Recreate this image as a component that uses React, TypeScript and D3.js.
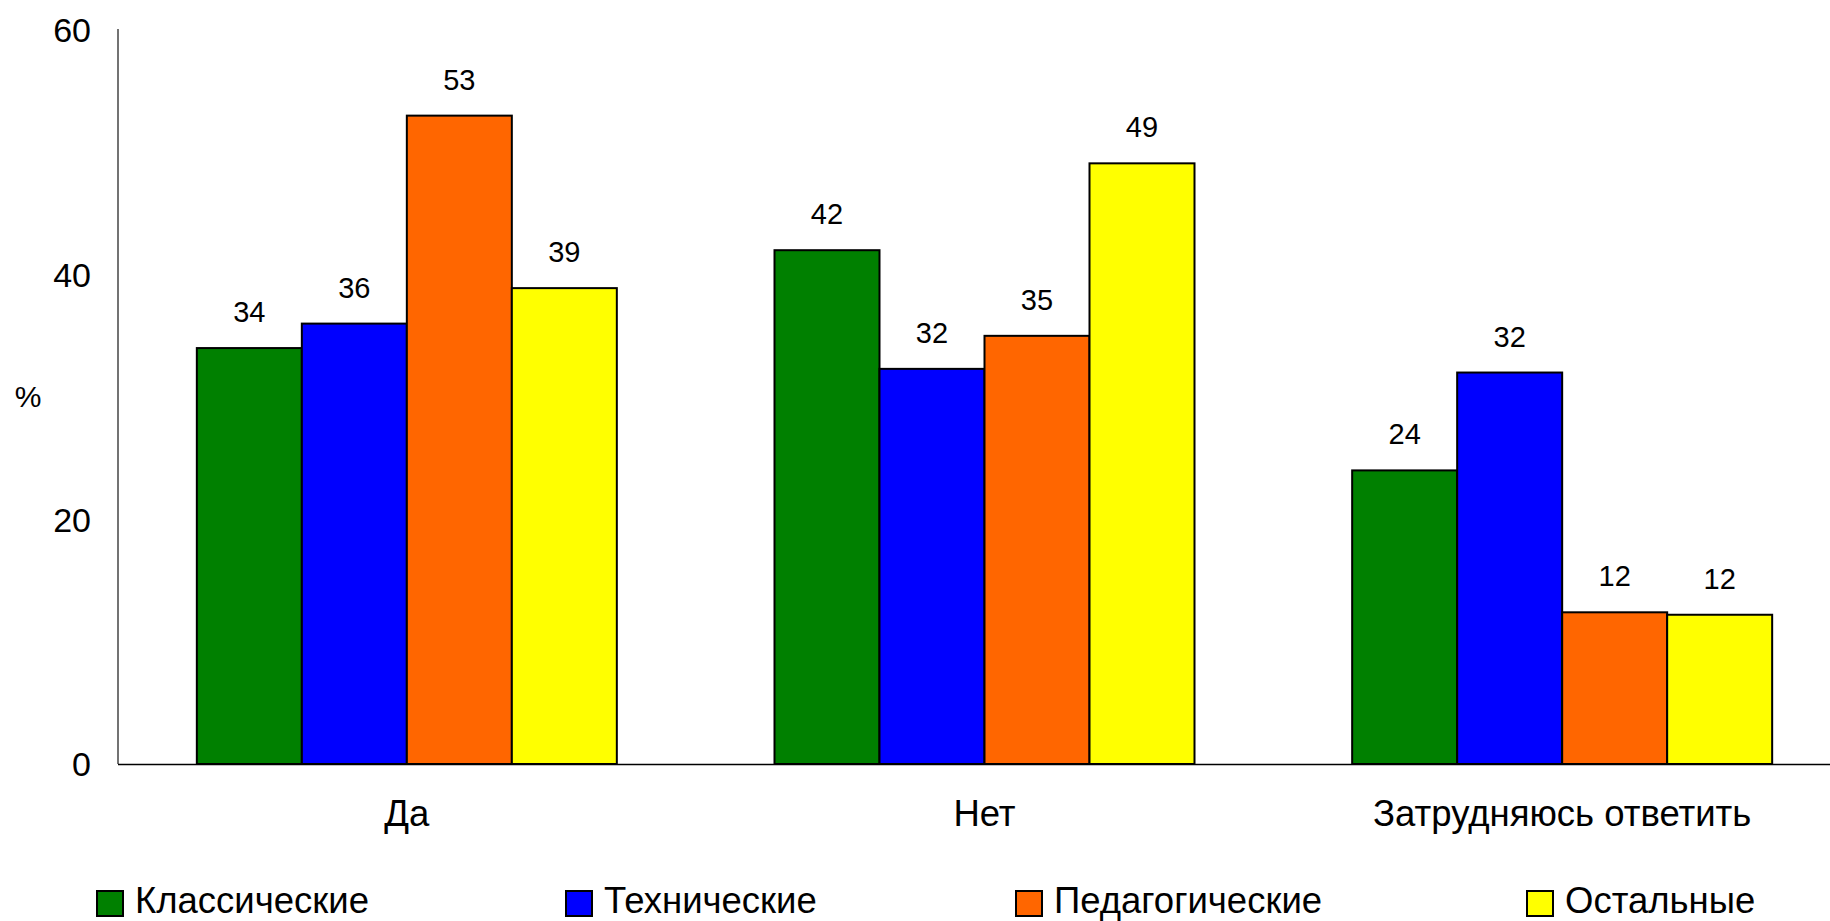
import React from "react";
import * as d3 from "d3";

const categories = ["Да", "Нет", "Затрудняюсь ответить"];
const seriesNames = ["Классические", "Технические", "Педагогические", "Остальные"];
const seriesColors = ["#008000", "#0000FF", "#FF6600", "#FFFF00"];
const valuesKlass = [34, 42, 24];
const valuesTech = [36, 32.3, 32];
const valuesPed = [53, 35, 12.4];
const valuesOst = [38.9, 49.1, 12.2];
const yTicks = [0, 20, 40, 60];

const seriesValues = [valuesKlass, valuesTech, valuesPed, valuesOst];
const dataLabels = [
  ["34", "42", "24"],
  ["36", "32", "32"],
  ["53", "35", "12"],
  ["39", "49", "12"],
];

const W = 1830;
const H = 921;
const margin = { left: 118, top: 30 };
const plotRight = 1851;
const y0 = 764;

export default function App() {
  const x0 = d3
    .scaleBand<string>()
    .domain(categories)
    .range([margin.left, plotRight])
    .paddingInner(0)
    .paddingOuter(0);
  const groupInner = 420 / x0.bandwidth();
  const x1 = d3
    .scaleBand<string>()
    .domain(seriesNames)
    .range([0, x0.bandwidth() * groupInner])
    .padding(0);
  const groupOffset = (x0.bandwidth() * (1 - groupInner)) / 2;
  const y = d3.scaleLinear().domain([0, 60]).range([y0, margin.top]);

  const font = "Liberation Sans, Arial, sans-serif";
  const legendX = [97, 566, 1016, 1527];

  return (
    <svg
      width={W}
      height={H}
      style={{ position: "absolute", left: 0, top: 0, background: "#fff" }}
      fontFamily={font}
    >
      {categories.map((cat, ci) => (
        <g key={cat}>
          {seriesNames.map((s, si) => {
            const v = seriesValues[si][ci];
            const bx = (x0(cat) as number) + groupOffset + (x1(s) as number);
            return (
              <g key={s}>
                <rect
                  x={bx}
                  y={y(v)}
                  width={x1.bandwidth()}
                  height={y0 - y(v)}
                  fill={seriesColors[si]}
                  stroke="#000"
                  strokeWidth={2}
                />
                <text
                  x={bx + x1.bandwidth() / 2}
                  y={y(v) - 26}
                  textAnchor="middle"
                  fontSize={29}
                  fill="#000"
                >
                  {dataLabels[si][ci]}
                </text>
              </g>
            );
          })}
          <text
            x={(x0(cat) as number) + x0.bandwidth() / 2}
            y={826}
            textAnchor="middle"
            fontSize={36.5}
            fill="#000"
          >
            {cat}
          </text>
        </g>
      ))}
      <line x1={margin.left} x2={margin.left} y1={margin.top - 1} y2={y0} stroke="#444" strokeWidth={1.5} />
      <line x1={margin.left} x2={W} y1={y0 + 0.5} y2={y0 + 0.5} stroke="#000" strokeWidth={1.5} />
      {yTicks.map((t) => (
        <text key={t} x={91} y={y(t)} dy="0.36em" textAnchor="end" fontSize={34} fill="#000">
          {t}
        </text>
      ))}
      <text x={28} y={396} dy="0.36em" textAnchor="middle" fontSize={30} fill="#000">
        %
      </text>
      {seriesNames.map((s, i) => (
        <g key={s}>
          <rect x={legendX[i]} y={891} width={26} height={25} fill={seriesColors[i]} stroke="#000" strokeWidth={2} />
          <text x={legendX[i] + 38} y={913} fontSize={36.5} fill="#000">
            {s}
          </text>
        </g>
      ))}
    </svg>
  );
}
